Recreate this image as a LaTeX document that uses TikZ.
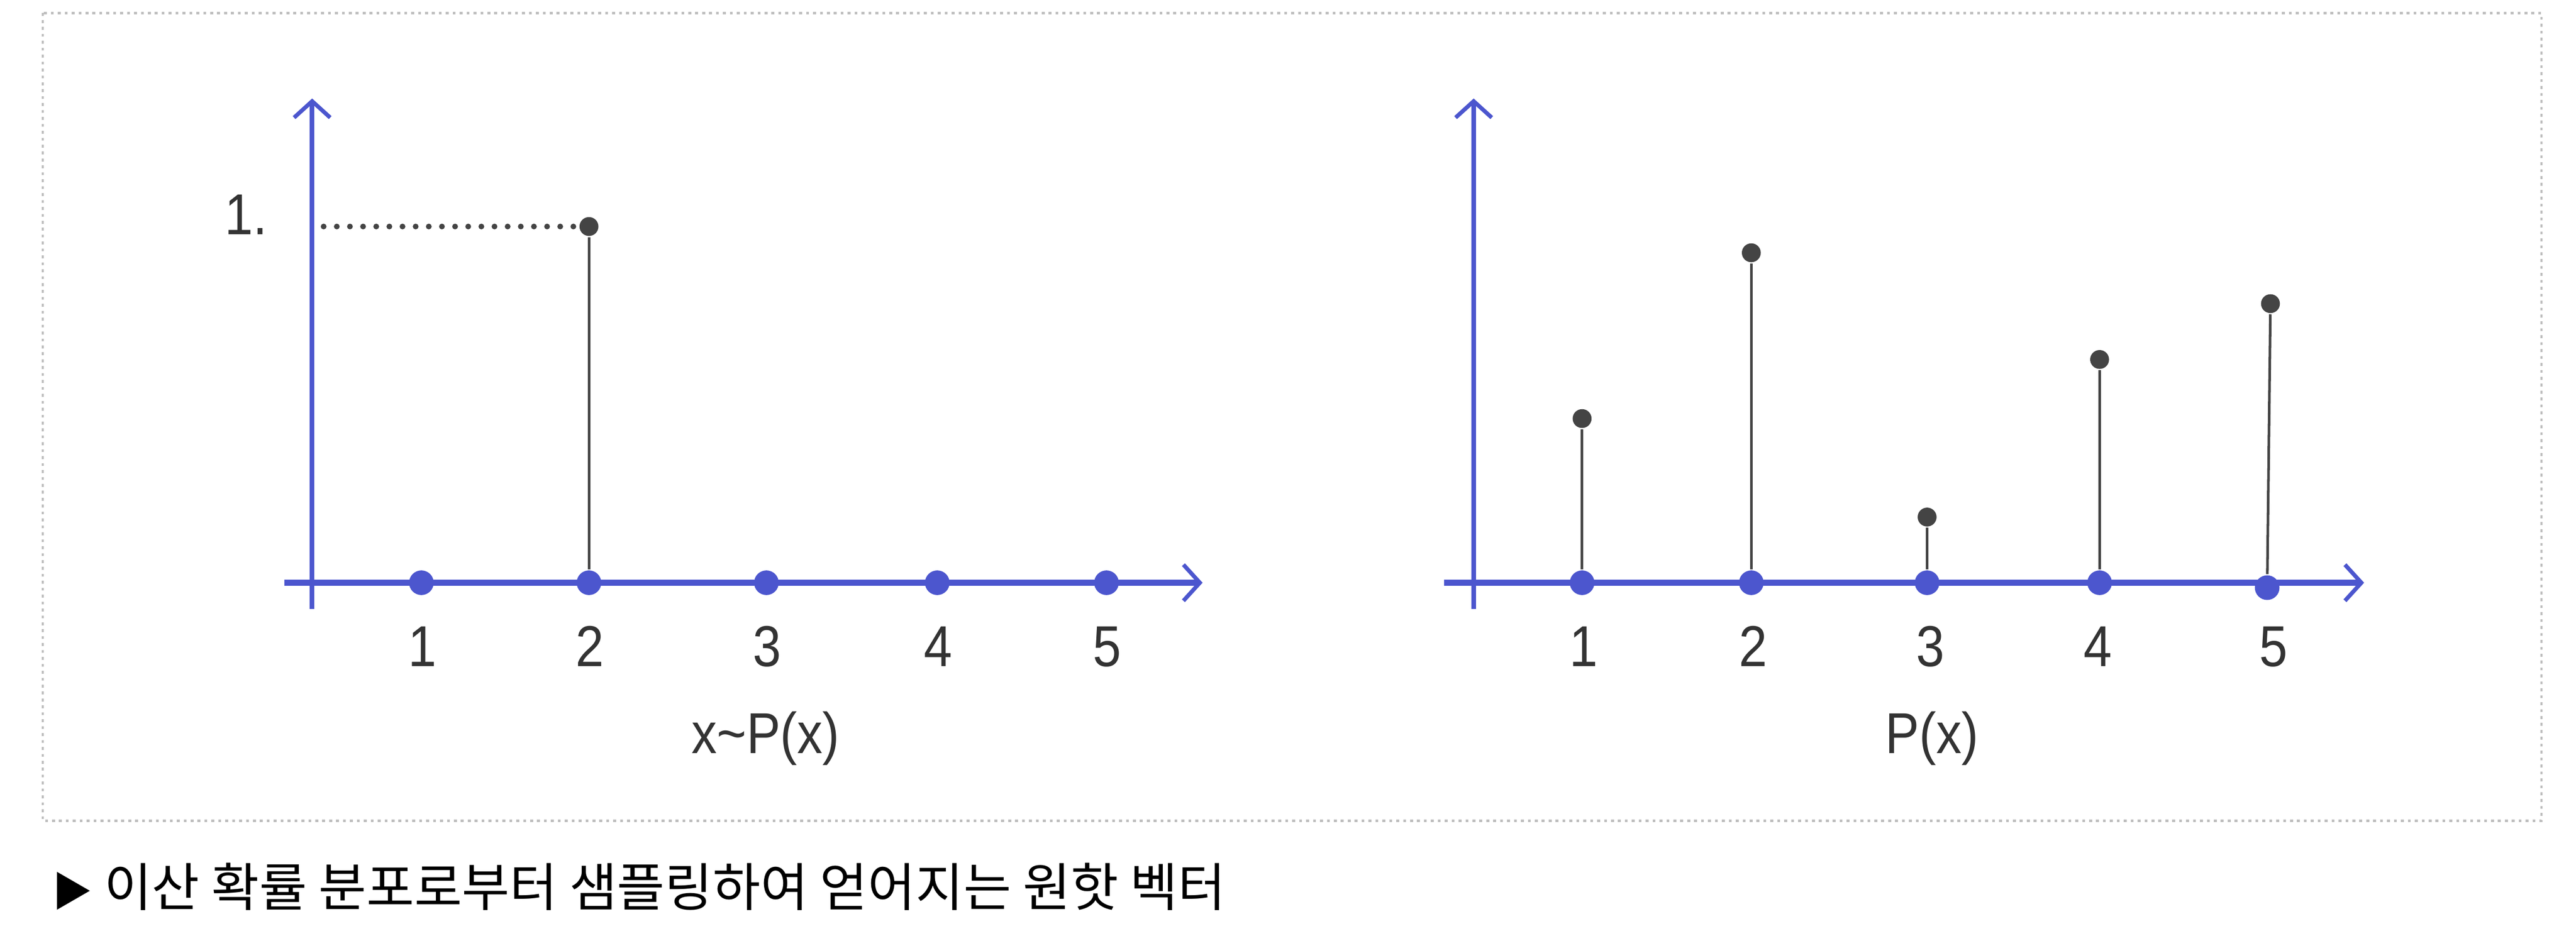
\documentclass[tikz,border=0pt]{standalone}
\usepackage{fontspec}
\setmainfont{Liberation Sans}[FakeStretch=0.88]
\newfontfamily\cjk{Noto Sans CJK KR}
\usepackage{tikz}
\usetikzlibrary{arrows.meta}
\definecolor{axisblue}{RGB}{76,86,206}
\definecolor{dotgray}{RGB}{68,68,68}
\definecolor{framegray}{RGB}{190,190,190}
\tikzset{
	xaxisline/.style = {draw=axisblue, line width=1.1pt,
		-{Straight Barb[length=1mm, width=2.2mm, line width=0.7pt]}},
	yaxisline/.style = {xaxisline, line width=0.8pt},
	axisdot/.style   = {circle, fill=axisblue, inner sep=0pt, minimum size=1.5mm},
	topdot/.style    = {circle, fill=dotgray, inner sep=0pt, minimum size=1.15mm},
	stem/.style      = {draw=dotgray, line width=0.45pt},
	refline/.style   = {draw=dotgray, line width=1pt, line cap=round,
		dash pattern=on 0pt off 0.8mm},
	numlabel/.style  = {anchor=base, text=black!80},
	framebox/.style  = {draw=framegray, line width=0.4pt,
		dash pattern=on 0.5pt off 0.7pt}
}

\begin{document}
\begin{tikzpicture}
	[
	x                 = 1cm,
	y                 = -1cm,
	every node/.style = {font=\fontsize{10}{12}\selectfont}
	]
	\useasboundingbox (0,0) rectangle (15.68,5.732);
	\draw [framebox] (0.26,0.08) rectangle (15.47,5.0);

	% sampled one-hot vector
	\coordinate (ly0) at (1.90,3.71);
	\coordinate (ly1) at (1.90,0.60);
	\coordinate (lx0) at (1.73,3.55);
	\coordinate (lx1) at (7.32,3.55);
	\draw [yaxisline] (ly0) -- (ly1);
	\draw [xaxisline] (lx0) -- (lx1);
	\node [axisdot] (la1) at (2.565,3.55) {};
	\node [axisdot] (la2) at (3.585,3.55) {};
	\node [axisdot] (la3) at (4.665,3.55) {};
	\node [axisdot] (la4) at (5.705,3.55) {};
	\node [axisdot] (la5) at (6.735,3.55) {};
	\node [topdot] (lt2) at (3.585,1.38) {};
	\draw [stem] (la2) -- (lt2);
	\coordinate (lref) at (1.97,1.38);
	\draw [refline] (lref) -- (lt2);
	\node [anchor=base east, text=black!80] (lone) at (1.75,1.43) {1.};
	\node [numlabel] (ln1) at (2.57,4.06) {1};
	\node [numlabel] (ln2) at (3.59,4.06) {2};
	\node [numlabel] (ln3) at (4.67,4.06) {3};
	\node [numlabel] (ln4) at (5.71,4.06) {4};
	\node [numlabel] (ln5) at (6.74,4.06) {5};
	\node [numlabel] (lname) at (4.66,4.59) {x\textasciitilde P(x)};

	% distribution P(x)
	\coordinate (ry0) at (8.97,3.71);
	\coordinate (ry1) at (8.97,0.60);
	\coordinate (rx0) at (8.79,3.55);
	\coordinate (rx1) at (14.39,3.55);
	\draw [yaxisline] (ry0) -- (ry1);
	\draw [xaxisline] (rx0) -- (rx1);
	\node [axisdot] (ra1) at (9.63,3.55) {};
	\node [axisdot] (ra2) at (10.66,3.55) {};
	\node [axisdot] (ra3) at (11.73,3.55) {};
	\node [axisdot] (ra4) at (12.78,3.55) {};
	\node [axisdot] (ra5) at (13.80,3.58) {};
	\node [topdot] (rt1) at (9.63,2.55) {};
	\node [topdot] (rt2) at (10.66,1.54) {};
	\node [topdot] (rt3) at (11.73,3.15) {};
	\node [topdot] (rt4) at (12.78,2.19) {};
	\node [topdot] (rt5) at (13.82,1.85) {};
	\draw [stem] (ra1) -- (rt1);
	\draw [stem] (ra2) -- (rt2);
	\draw [stem] (ra3) -- (rt3);
	\draw [stem] (ra4) -- (rt4);
	\draw [stem] (ra5) -- (rt5);
	\node [numlabel] (rn1) at (9.64,4.06) {1};
	\node [numlabel] (rn2) at (10.67,4.06) {2};
	\node [numlabel] (rn3) at (11.75,4.06) {3};
	\node [numlabel] (rn4) at (12.77,4.06) {4};
	\node [numlabel] (rn5) at (13.84,4.06) {5};
	\node [numlabel] (rname) at (11.76,4.59) {P(x)};

	% caption
	\node [anchor=west, inner sep=0pt, font=\cjk\fontsize{9}{11}\selectfont]
		(caption) at (0.31,5.40)
		{{\fontsize{7}{9}\selectfont ▶} 이산 확률 분포로부터 샘플링하여 얻어지는 원핫 벡터};
\end{tikzpicture}
\end{document}
